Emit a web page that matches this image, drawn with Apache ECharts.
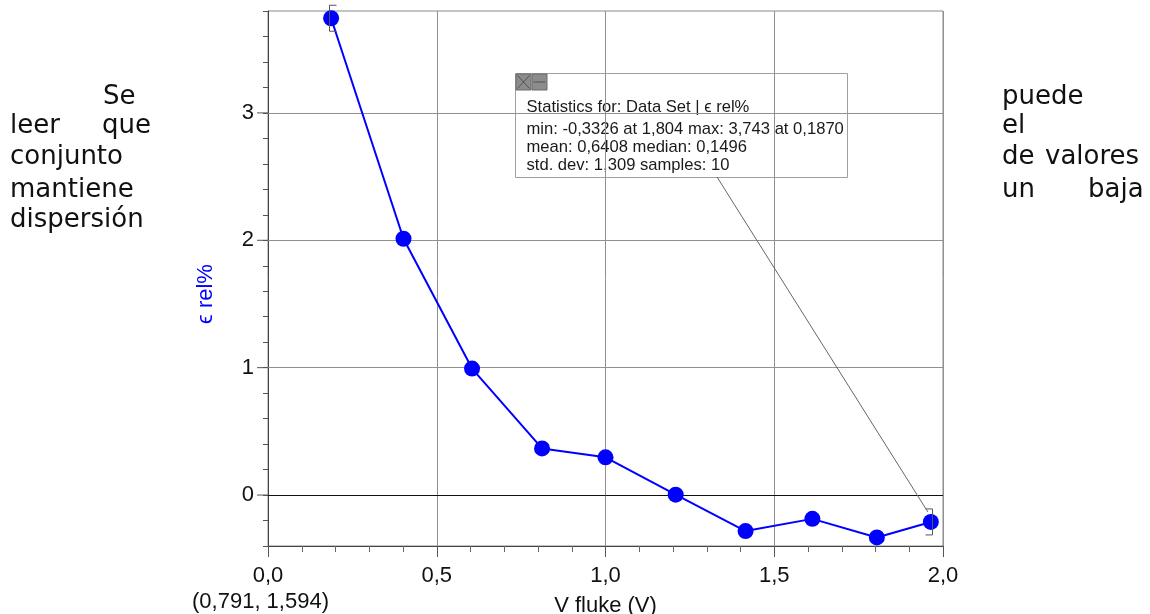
<!DOCTYPE html>
<html><head><meta charset="utf-8">
<script src="https://cdn.jsdelivr.net/npm/echarts@6/dist/echarts.min.js"></script>
<style>html,body{margin:0;padding:0;background:#fff}#c{width:1150px;height:614px}</style>
</head><body><div id="c"></div>
<script>
// ---- data ----
const xValues = [0.187, 0.4015, 0.6046, 0.812, 1.000, 1.208, 1.415, 1.613, 1.804, 1.964];
const yValues = [3.743, 2.012, 0.993, 0.366, 0.2962, 0.003, -0.283, -0.187, -0.3326, -0.211];
const yMajorTicks = [0, 1, 2, 3];
const yGridLines = [1, 2, 3];
const xName = 'V fluke (V)';
const yName = '\u03F5 rel%';
const cursorText = '(0,791, 1,594)';
const statsLines = [
  'Statistics for: Data Set | \u03F5 rel%',
  'min: -0,3326 at 1,804 max: 3,743 at 0,1870',
  'mean: 0,6408 median: 0,1496',
  'std. dev: 1,309 samples: 10'
];
const leftWords = ['Se', 'leer', 'que', 'conjunto', 'mantiene', 'dispersión'];
const rightWords = ['puede', 'el', 'de', 'valores', 'un', 'baja'];

// ---- chart ----
const points = xValues.map((x, i) => [x, yValues[i]]);
const BLUE = '#0000ff';
const AX_FONT = '"Liberation Sans", Arial, sans-serif';
const BODY_FONT = '26px "DejaVu Sans", sans-serif';
const comma = v => v.toFixed(1).replace('.', ',');

const chart = echarts.init(document.getElementById('c'), null, {renderer: 'canvas'});

// positions for body words (layout only)
const leftPos = [[103, 97], [10, 126], [102, 126], [10, 157], [10, 190], [10, 220]];
const rightPos = [[1002, 97], [1002, 126], [1002, 157], [1045, 157], [1002, 190], [1088, 190]];
const graphics = [];
leftWords.forEach((w, i) => graphics.push({type: 'text', x: leftPos[i][0], y: leftPos[i][1], z: 50,
  style: {text: w, font: BODY_FONT, fill: '#111', textAlign: 'left', textVerticalAlign: 'middle', verticalAlign: 'middle'}}));
rightWords.forEach((w, i) => graphics.push({type: 'text', x: rightPos[i][0], y: rightPos[i][1], z: 50,
  style: {text: w, font: BODY_FONT, fill: '#111', textAlign: 'left', textVerticalAlign: 'middle', verticalAlign: 'middle'}}));
// y axis name (rotated)
graphics.push({type: 'text', x: 206, y: 294, rotation: Math.PI / 2, z: 50,
  style: {text: yName, font: '22px ' + AX_FONT, fill: BLUE, textAlign: 'center', textVerticalAlign: 'middle', verticalAlign: 'middle'}});
// cursor readout
graphics.push({type: 'text', x: 192, y: 602, z: 50,
  style: {text: cursorText, font: '22px ' + AX_FONT, fill: '#111', textAlign: 'left', textVerticalAlign: 'middle', verticalAlign: 'middle'}});
// statistics box
const statChildren = [
  {type: 'rect', shape: {x: 0, y: 0, width: 332, height: 104}, style: {fill: '#fff', stroke: '#a0a0a0', lineWidth: 1}},
  {type: 'rect', shape: {x: 0.5, y: 0.5, width: 15, height: 16}, style: {fill: '#8c8c8c', stroke: '#6a6a6a', lineWidth: 1}},
  {type: 'line', shape: {x1: 2, y1: 2, x2: 14, y2: 15}, style: {stroke: '#505050', lineWidth: 1}},
  {type: 'line', shape: {x1: 14, y1: 2, x2: 2, y2: 15}, style: {stroke: '#505050', lineWidth: 1}},
  {type: 'rect', shape: {x: 16.5, y: 0.5, width: 15, height: 16}, style: {fill: '#8c8c8c', stroke: '#6a6a6a', lineWidth: 1}},
  {type: 'line', shape: {x1: 18, y1: 8.5, x2: 30, y2: 8.5}, style: {stroke: '#505050', lineWidth: 1}}
];
const statY = [34, 56, 74, 92];
statsLines.forEach((t, i) => statChildren.push({type: 'text', x: 11, y: statY[i],
  style: {text: t, font: '16.6px ' + AX_FONT, fill: '#1a1a1a', textAlign: 'left', textVerticalAlign: 'middle', verticalAlign: 'middle'}}));
graphics.push({type: 'group', x: 515.5, y: 73.5, z: 100, children: statChildren});

const option = {
  animation: false,
  backgroundColor: '#fff',
  grid: {left: 268, right: 207, top: 11, bottom: 68, show: true, borderColor: '#8a8a8a', borderWidth: 1,
         backgroundColor: 'transparent', containLabel: false, outerBoundsMode: 'none'},
  xAxis: {
    type: 'value', min: 0, max: 2, interval: 0.5,
    axisLine: {show: true, onZero: false, lineStyle: {color: '#444', width: 1}},
    axisTick: {show: true, length: 11, lineStyle: {color: '#555'}},
    minorTick: {show: true, splitNumber: 5, length: 6, lineStyle: {color: '#666'}},
    splitLine: {show: true, lineStyle: {color: '#909090', width: 1}},
    axisLabel: {formatter: comma, fontSize: 22, fontFamily: AX_FONT, color: '#111', margin: 19},
    name: xName, nameLocation: 'middle', nameGap: 60,
    nameTextStyle: {fontSize: 22, fontFamily: AX_FONT, color: '#111', verticalAlign: 'middle'}
  },
  yAxis: {
    type: 'value', min: -0.4, max: 3.8, interval: 0.2,
    axisLine: {show: true, onZero: false, lineStyle: {color: '#444', width: 1}},
    axisTick: {show: true, length: 5, lineStyle: {color: '#555'}},
    splitLine: {show: false},
    axisLabel: {
      fontSize: 22, fontFamily: AX_FONT, color: '#111', margin: 14,
      formatter: v => (Math.abs(v - Math.round(v)) < 1e-6 ? String(Math.round(v) + 0) : '')
    }
  },
  graphic: graphics,
  series: [
    {
      type: 'line', data: points, z: 5,
      lineStyle: {color: BLUE, width: 2},
      itemStyle: {color: BLUE},
      symbol: 'circle', symbolSize: 16, showSymbol: true,
      markLine: {
        silent: true, symbol: ['none', 'none'], label: {show: false}, animation: false,
        data: [
          ...yGridLines.map(v => ({yAxis: v, lineStyle: {color: '#909090', width: 1, type: 'solid'}})),
          {yAxis: 0, lineStyle: {color: '#111', width: 1, type: 'solid'}}
        ]
      }
    },
    {
      // longer major ticks on the y axis
      type: 'custom', silent: true, z: 3, clip: false,
      data: yMajorTicks.map(v => [0, v]),
      renderItem: (params, api) => {
        const p = api.coord([api.value(0), api.value(1)]);
        return {type: 'line', shape: {x1: p[0] - 11, y1: p[1], x2: p[0], y2: p[1]}, style: {stroke: '#555', lineWidth: 1}};
      }
    },
    {
      // selection brackets at first and last sample + leader line from the stats box
      type: 'custom', silent: true, z: 6, clip: false,
      data: [points[0], points[points.length - 1]],
      renderItem: (params, api) => {
        const p = api.coord([api.value(0), api.value(1)]);
        const st = {stroke: '#555', lineWidth: 1, fill: null};
        if (params.dataIndex === 0) {
          const x = Math.round(p[0]) - 1.5;
          return {type: 'polyline', shape: {points: [[x + 7, p[1] - 13], [x, p[1] - 13], [x, p[1] + 13], [x + 7, p[1] + 13]]}, style: st};
        }
        const x = Math.round(p[0]) + 1.5;
        return {type: 'group', children: [
          {type: 'polyline', shape: {points: [[x - 7, p[1] - 13], [x, p[1] - 13], [x, p[1] + 13], [x - 7, p[1] + 13]]}, style: st},
          {type: 'line', shape: {x1: 717, y1: 177, x2: p[0] - 3, y2: p[1] - 10}, style: {stroke: '#666', lineWidth: 1}}
        ]};
      }
    }
  ]
};
chart.setOption(option);
</script>
</body></html>
